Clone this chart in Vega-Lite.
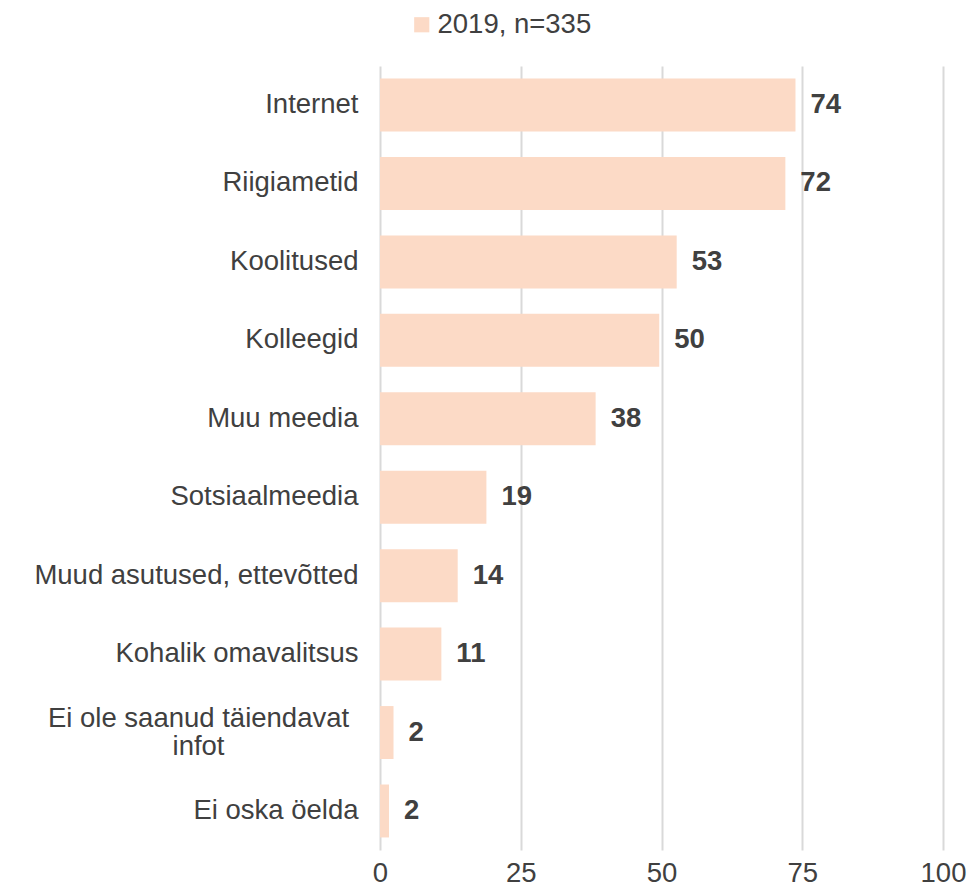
{
  "$schema": "https://vega.github.io/schema/vega-lite/v6.json",
  "autosize": "none",
  "width": 563,
  "height": 784,
  "padding": {"left": 380, "top": 66, "right": 25, "bottom": 39},
  "background": "white",
  "config": {
    "font": "Liberation Sans",
    "view": {"stroke": null}
  },
  "data": {
    "values": [
      {"category": "Internet", "value": 73.8, "series": "2019, n=335"},
      {"category": "Riigiametid", "value": 72.0, "series": "2019, n=335"},
      {"category": "Koolitused", "value": 52.7, "series": "2019, n=335"},
      {"category": "Kolleegid", "value": 49.6, "series": "2019, n=335"},
      {"category": "Muu meedia", "value": 38.3, "series": "2019, n=335"},
      {"category": "Sotsiaalmeedia", "value": 18.9, "series": "2019, n=335"},
      {"category": "Muud asutused, ettevõtted", "value": 13.8, "series": "2019, n=335"},
      {"category": "Kohalik omavalitsus", "value": 10.9, "series": "2019, n=335"},
      {"category": "Ei ole saanud täiendavat|infot", "value": 2.4, "series": "2019, n=335"},
      {"category": "Ei oska öelda", "value": 1.6, "series": "2019, n=335"}
    ]
  },
  "encoding": {
    "y": {
      "field": "category",
      "type": "nominal",
      "sort": null,
      "scale": {"paddingInner": 0.325, "paddingOuter": 0.16},
      "axis": {
        "title": null,
        "domain": false,
        "ticks": false,
        "labelFontSize": 27.5,
        "labelColor": "#404040",
        "labelLineHeight": 28,
        "labelLimit": 400,
        "labelExpr": "split(datum.value, '|')",
        "labelAlign": {"condition": {"test": "indexof(datum.value, '|') >= 0", "value": "center"}, "value": "right"},
        "labelPadding": {"condition": {"test": "indexof(datum.value, '|') >= 0", "value": 182}, "value": 22},
        "labelOffset": {"condition": {"test": "indexof(datum.value, '|') >= 0", "value": -14}, "value": 0}
      }
    },
    "x": {
      "field": "value",
      "type": "quantitative",
      "scale": {"domain": [0, 100]},
      "axis": {
        "title": null,
        "values": [0, 25, 50, 75, 100],
        "domain": false,
        "ticks": false,
        "grid": true,
        "gridColor": "#d9d9d9",
        "gridWidth": 2,
        "labelFlush": false,
        "labelFontSize": 27.5,
        "labelColor": "#404040",
        "labelPadding": 9
      }
    }
  },
  "layer": [
    {
      "mark": {"type": "bar"},
      "encoding": {
        "color": {
          "field": "series",
          "type": "nominal",
          "scale": {"range": ["#FCDAC6"]},
          "legend": {
            "title": null,
            "orient": "none",
            "legendX": 28,
            "legendY": -55,
            "symbolType": "square",
            "symbolSize": 230,
            "symbolStrokeWidth": 0,
            "labelFontSize": 27.5,
            "labelColor": "#404040",
            "labelOffset": 2
          }
        }
      }
    },
    {
      "mark": {"type": "text", "align": "left", "baseline": "middle", "dx": 15, "fontSize": 27.5, "fontWeight": "bold", "color": "#404040"},
      "encoding": {
        "text": {"field": "value", "type": "quantitative", "format": ".0f"}
      }
    }
  ]
}
